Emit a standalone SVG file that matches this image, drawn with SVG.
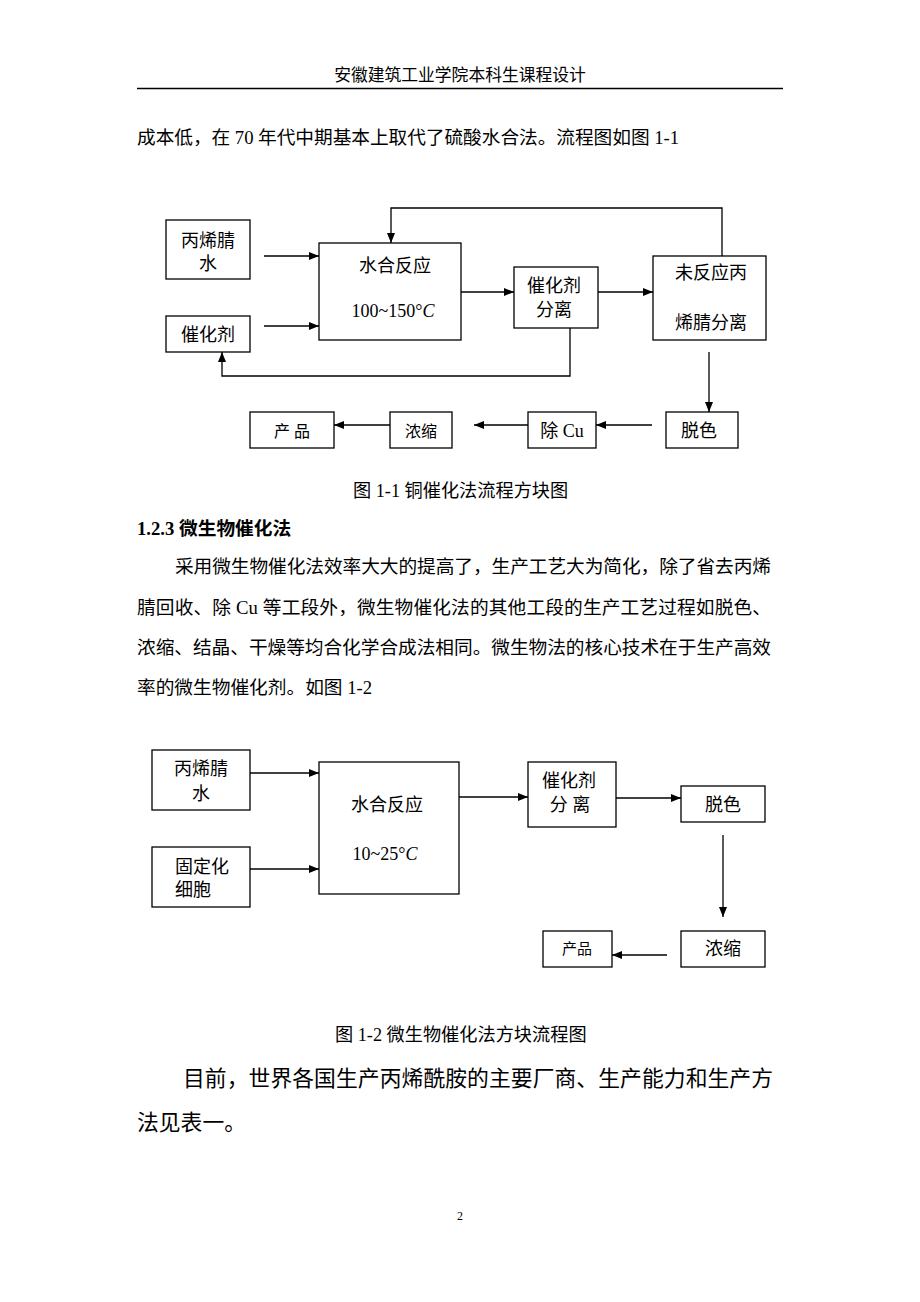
<svg xmlns="http://www.w3.org/2000/svg" width="920" height="1302" viewBox="0 0 920 1302">
<style>
  text { font-family: "Liberation Serif", "Noto Sans CJK SC", serif; fill: #000; }
  .t { font-size: 18.7px; }
  .d { font-size: 18px; text-anchor: middle; }
  .s { font-size: 16px; text-anchor: middle; }
  .cap { font-size: 18.2px; }
  .box { fill: #fff; stroke: #000; stroke-width: 1.3; }
  .ln { fill: none; stroke: #000; stroke-width: 1.3; }
</style>
<defs>
  <marker id="ah" markerWidth="10" markerHeight="8" refX="10" refY="4" orient="auto" markerUnits="userSpaceOnUse">
    <path d="M0,0 L10,4 L0,8 Z" fill="#000"/>
  </marker>
</defs>
<rect width="920" height="1302" fill="#fff"/>

<!-- header -->
<text x="460" y="81" style="font-size:16.8px" text-anchor="middle">安徽建筑工业学院本科生课程设计</text>
<line x1="137" y1="88.5" x2="783" y2="88.5" stroke="#000" stroke-width="1.3"/>

<text class="t" x="137" y="144" textLength="542" lengthAdjust="spacing">成本低，在 70 年代中期基本上取代了硫酸水合法。流程图如图 1-1</text>

<!-- Diagram 1 -->
<g id="connectors1">
  <line class="ln" x1="264" y1="256" x2="319" y2="256" marker-end="url(#ah)"/>
  <line class="ln" x1="264" y1="326" x2="319" y2="326" marker-end="url(#ah)"/>
  <line class="ln" x1="461" y1="292" x2="514" y2="292" marker-end="url(#ah)"/>
  <line class="ln" x1="598" y1="292" x2="653" y2="292" marker-end="url(#ah)"/>
  <polyline class="ln" points="722,256 722,208 391,208 391,243" marker-end="url(#ah)"/>
  <polyline class="ln" points="570,328 570,376 222,376 222,352" marker-end="url(#ah)"/>
  <line class="ln" x1="709" y1="352" x2="709" y2="412" marker-end="url(#ah)"/>
  <line class="ln" x1="652" y1="425" x2="596" y2="425" marker-end="url(#ah)"/>
  <line class="ln" x1="528" y1="425" x2="474" y2="425" marker-end="url(#ah)"/>
  <line class="ln" x1="390" y1="425" x2="334" y2="425" marker-end="url(#ah)"/>
</g>
<g id="n1_feed"><rect class="box" x="166" y="220" width="84" height="59"/>
  <text class="d" x="208" y="247">丙烯腈</text><text class="d" x="208" y="270">水</text></g>
<g id="n1_cat"><rect class="box" x="166" y="316" width="84" height="36"/>
  <text class="d" x="208" y="341">催化剂</text></g>
<g id="n1_react"><rect class="box" x="319" y="243" width="142" height="97"/>
  <text class="d" x="395" y="272">水合反应</text>
  <text class="d" x="393" y="317">100~150<tspan>°</tspan><tspan font-style="italic">C</tspan></text></g>
<g id="n1_sep"><rect class="box" x="514" y="267" width="84" height="61"/>
  <text class="d" x="554" y="292">催化剂</text><text class="d" x="554" y="316">分离</text></g>
<g id="n1_unreact"><rect class="box" x="653" y="256" width="113" height="84"/>
  <text class="d" x="711" y="279">未反应丙</text><text class="d" x="711" y="329">烯腈分离</text></g>
<g id="n1_decol"><rect class="box" x="666" y="412" width="72" height="36"/>
  <text class="d" x="699" y="437">脱色</text></g>
<g id="n1_cu"><rect class="box" x="528" y="412" width="68" height="36"/>
  <text class="d" x="562" y="437">除 Cu</text></g>
<g id="n1_conc"><rect class="box" x="390" y="412" width="62" height="36"/>
  <text class="s" x="421" y="437">浓缩</text></g>
<g id="n1_prod"><rect class="box" x="250" y="412" width="84" height="36"/>
  <text class="s" x="292" y="437">产  品</text></g>

<text class="cap" x="353" y="497">图 1-1 铜催化法流程方块图</text>

<text x="137" y="535" style="font-size:18.7px;font-weight:bold">1.2.3 微生物催化法</text>
<text class="t" x="175" y="573" textLength="596" lengthAdjust="spacing">采用微生物催化法效率大大的提高了，生产工艺大为简化，除了省去丙烯</text>
<text class="t" x="137" y="614" textLength="634" lengthAdjust="spacing">腈回收、除 Cu 等工段外，微生物催化法的其他工段的生产工艺过程如脱色、</text>
<text class="t" x="137" y="654" textLength="634" lengthAdjust="spacing">浓缩、结晶、干燥等均合化学合成法相同。微生物法的核心技术在于生产高效</text>
<text class="t" x="137" y="694">率的微生物催化剂。如图 1-2</text>

<!-- Diagram 2 -->
<g id="connectors2">
  <line class="ln" x1="250" y1="773" x2="319" y2="773" marker-end="url(#ah)"/>
  <line class="ln" x1="250" y1="869" x2="319" y2="869" marker-end="url(#ah)"/>
  <line class="ln" x1="459" y1="797" x2="528" y2="797" marker-end="url(#ah)"/>
  <line class="ln" x1="612" y1="798" x2="681" y2="798" marker-end="url(#ah)"/>
  <line class="ln" x1="723" y1="835" x2="723" y2="917" marker-end="url(#ah)"/>
  <line class="ln" x1="667" y1="955" x2="612" y2="955" marker-end="url(#ah)"/>
</g>
<g id="n2_feed"><rect class="box" x="152" y="750" width="98" height="60"/>
  <text class="d" x="201" y="775">丙烯腈</text><text class="d" x="201" y="800">水</text></g>
<g id="n2_cell"><rect class="box" x="152" y="847" width="98" height="60"/>
  <text class="d" x="202" y="873">固定化</text><text x="175" y="896" style="font-size:18px">细胞</text></g>
<g id="n2_react"><rect class="box" x="319" y="762" width="140" height="132"/>
  <text class="d" x="387" y="811">水合反应</text>
  <text class="d" x="385" y="860">10~25<tspan>°</tspan><tspan font-style="italic">C</tspan></text></g>
<g id="n2_sep"><rect class="box" x="528" y="762" width="88" height="65"/>
  <text class="d" x="569" y="787">催化剂</text><text class="d" x="570" y="811">分 离</text></g>
<g id="n2_decol"><rect class="box" x="681" y="786" width="84" height="36"/>
  <text class="d" x="723" y="811">脱色</text></g>
<g id="n2_conc"><rect class="box" x="681" y="931" width="84" height="36"/>
  <text class="d" x="723" y="955">浓缩</text></g>
<g id="n2_prod"><rect class="box" x="543" y="931" width="69" height="36"/>
  <text x="577" y="954" style="font-size:15px" text-anchor="middle">产品</text></g>

<text class="cap" x="335" y="1041">图 1-2 微生物催化法方块流程图</text>

<text x="183" y="1086" style="font-size:21.8px" textLength="590" lengthAdjust="spacing">目前，世界各国生产丙烯酰胺的主要厂商、生产能力和生产方</text>
<text x="137" y="1130" style="font-size:21.8px">法见表一。</text>

<text x="460" y="1220" style="font-size:12px" text-anchor="middle">2</text>
</svg>
